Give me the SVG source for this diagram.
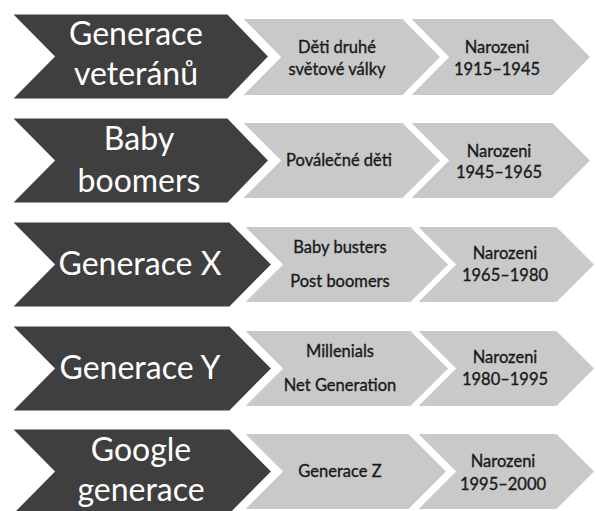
<svg xmlns="http://www.w3.org/2000/svg" width="596" height="511" viewBox="0 0 596 511">
<style>
.dk{fill:#3f3f3f;stroke:#fff;stroke-width:3;stroke-linejoin:miter}
.lt{fill:#c9c9c9;stroke:#fff;stroke-width:3;stroke-linejoin:miter}
.tb{font-family:Lato,"Liberation Sans",sans-serif;font-size:32px;fill:#fff;text-anchor:middle}
.ts{font-family:Lato,"Liberation Sans",sans-serif;font-size:16.5px;fill:#1a1a1a;stroke:#1a1a1a;stroke-width:0.35;text-anchor:middle}
</style>
<rect width="596" height="511" fill="#fff"/>
<g id="connectors"/>
<!-- Row 1 -->
<g id="r1-date"><path class="lt" d="M408,17.5 L553,17.5 L592,57 L553,96.5 L408,96.5 L447,57 Z"/>
<text class="ts" x="497" y="53">Narozeni</text><text class="ts" x="497" y="75">1915–1945</text></g>
<g id="r1-alias"><path class="lt" d="M240,17.5 L403,17.5 L442,57 L403,96.5 L240,96.5 L279,57 Z"/>
<text class="ts" x="337" y="53">Děti druhé</text><text class="ts" x="337" y="75">světové války</text></g>
<g id="r1-gen"><path class="dk" d="M10,13 L228,13 L270,56.5 L228,100 L10,100 L53,56.5 Z"/>
<text class="tb" x="136" y="45">Generace</text><text class="tb" x="136" y="85">veteránů</text></g>
<!-- Row 2 -->
<g id="r2-date"><path class="lt" d="M408,121.5 L553,121.5 L592,160.5 L553,199.5 L408,199.5 L447,160.5 Z"/>
<text class="ts" x="499" y="157">Narozeni</text><text class="ts" x="499" y="178">1945–1965</text></g>
<g id="r2-alias"><path class="lt" d="M240,121.5 L403,121.5 L442,160.5 L403,199.5 L240,199.5 L279,160.5 Z"/>
<text class="ts" x="339" y="166">Poválečné děti</text></g>
<g id="r2-gen"><path class="dk" d="M10,117 L228,117 L270,160.5 L228,204 L10,204 L53,160.5 Z"/>
<text class="tb" x="139" y="150">Baby</text><text class="tb" x="139" y="192">boomers</text></g>
<!-- Row 3 -->
<g id="r3-date"><path class="lt" d="M415,225.5 L557,225.5 L596,264.5 L557,303.5 L415,303.5 L454,264.5 Z"/>
<text class="ts" x="505" y="259">Narozeni</text><text class="ts" x="505" y="281">1965–1980</text></g>
<g id="r3-alias"><path class="lt" d="M242,225.5 L411,225.5 L450,264.5 L411,303.5 L242,303.5 L281,264.5 Z"/>
<text class="ts" x="340" y="253">Baby busters</text><text class="ts" x="340" y="287">Post boomers</text></g>
<g id="r3-gen"><path class="dk" d="M10,221 L230,221 L273,264.5 L230,308 L10,308 L53,264.5 Z"/>
<text class="tb" x="140" y="275">Generace X</text></g>
<!-- Row 4 -->
<g id="r4-date"><path class="lt" d="M415,329.5 L557,329.5 L596,368.5 L557,407.5 L415,407.5 L454,368.5 Z"/>
<text class="ts" x="505" y="363">Narozeni</text><text class="ts" x="505" y="385">1980–1995</text></g>
<g id="r4-alias"><path class="lt" d="M242,329.5 L411,329.5 L450,368.5 L411,407.5 L242,407.5 L281,368.5 Z"/>
<text class="ts" x="340" y="357">Millenials</text><text class="ts" x="340" y="391">Net Generation</text></g>
<g id="r4-gen"><path class="dk" d="M10,325 L230,325 L273,368.5 L230,412 L10,412 L53,368.5 Z"/>
<text class="tb" x="140" y="379">Generace Y</text></g>
<!-- Row 5 -->
<g id="r5-date"><path class="lt" d="M415,432.5 L557,432.5 L596,471.5 L557,510.5 L415,510.5 L454,471.5 Z"/>
<text class="ts" x="503" y="467">Narozeni</text><text class="ts" x="503" y="490">1995–2000</text></g>
<g id="r5-alias"><path class="lt" d="M242,432.5 L409,432.5 L448,471.5 L409,510.5 L242,510.5 L281,471.5 Z"/>
<text class="ts" x="340" y="477">Generace Z</text></g>
<g id="r5-gen"><path class="dk" d="M10,428 L230,428 L273,471.5 L230,515 L10,515 L53,471.5 Z"/>
<text class="tb" x="141" y="461">Google</text><text class="tb" x="141" y="501">generace</text></g>
</svg>
